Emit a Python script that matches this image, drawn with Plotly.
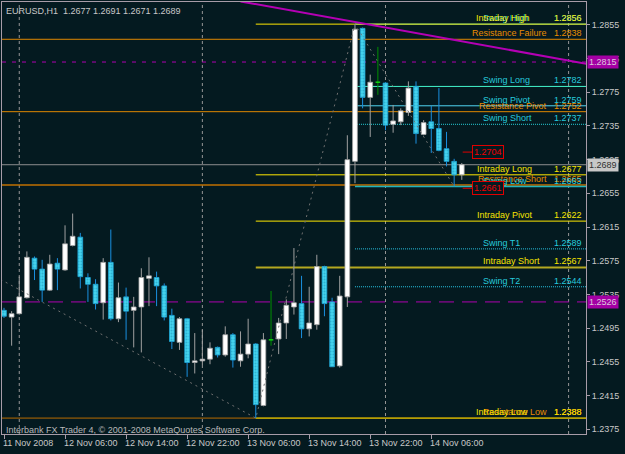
import plotly.graph_objects as go

# ---------------- data ----------------
symbol = "EURUSD,H1"
# hourly bars, bar 0 = 11 Nov 2008 22:00
opens = [1.2516, 1.2508, 1.2512, 1.2531, 1.2578, 1.2565, 1.2540, 1.2572, 1.2564, 1.2593,
         1.2603, 1.2555, 1.2547, 1.2525, 1.2573, 1.2506, 1.2532, 1.2516, 1.2520, 1.2554,
         1.2555, 1.2545, 1.2510, 1.2478, 1.2506, 1.2454, 1.2456, 1.2458, 1.2472, 1.2463,
         1.2487, 1.2456, 1.2464, 1.2476, 1.2403, 1.2481, 1.2482, 1.2501, 1.2520, 1.2524,
         1.2494, 1.2499, 1.2568, 1.2526, 1.2450, 1.2532, 1.2693, 1.2851, 1.2769, 1.2787,
         1.2786, 1.2737, 1.2740, 1.2751, 1.2782, 1.2725, 1.2740, 1.2732, 1.2708, 1.2693,
         1.2677]
highs = [1.2519, 1.2515, 1.2556, 1.2586, 1.2580, 1.2576, 1.2582, 1.2578, 1.2617, 1.2631,
         1.2608, 1.2560, 1.2553, 1.2578, 1.2612, 1.2549, 1.2543, 1.2532, 1.2566, 1.2579,
         1.2562, 1.2548, 1.2518, 1.2508, 1.2507, 1.2489, 1.2493, 1.2478, 1.2473, 1.2497,
         1.2489, 1.2491, 1.2506, 1.2477, 1.2489, 1.2539, 1.2507, 1.2529, 1.2590, 1.2557,
         1.2544, 1.2582, 1.2569, 1.2531, 1.2557, 1.2724, 1.2856, 1.2852, 1.2796, 1.2829,
         1.2787, 1.2760, 1.2756, 1.2788, 1.2788, 1.2742, 1.2759, 1.2780, 1.2728, 1.2696,
         1.2691]
lows = [1.2507, 1.2474, 1.2511, 1.2530, 1.2552, 1.2526, 1.2539, 1.2540, 1.2563, 1.2592,
        1.2542, 1.2526, 1.2517, 1.2505, 1.2504, 1.2502, 1.2481, 1.2472, 1.2466, 1.2521,
        1.2521, 1.2504, 1.2470, 1.2469, 1.2437, 1.2441, 1.2451, 1.2452, 1.2460, 1.2461,
        1.2448, 1.2449, 1.2459, 1.2388, 1.2402, 1.2474, 1.2464, 1.2482, 1.2511, 1.2483,
        1.2485, 1.2493, 1.2509, 1.2449, 1.2448, 1.2520, 1.2667, 1.2756, 1.2722, 1.2772,
        1.2730, 1.2727, 1.2736, 1.2747, 1.2714, 1.2724, 1.2703, 1.2705, 1.2687, 1.2663,
        1.2671]
closes = [1.2509, 1.2512, 1.2532, 1.2579, 1.2565, 1.2540, 1.2571, 1.2565, 1.2595, 1.2604,
          1.2556, 1.2547, 1.2524, 1.2573, 1.2506, 1.2531, 1.2515, 1.2520, 1.2555, 1.2557,
          1.2545, 1.2508, 1.2479, 1.2506, 1.2454, 1.2456, 1.2458, 1.2471, 1.2463, 1.2487,
          1.2457, 1.2464, 1.2476, 1.2404, 1.2481, 1.2481, 1.2501, 1.2522, 1.2525, 1.2494,
          1.2501, 1.2568, 1.2524, 1.2449, 1.2533, 1.2695, 1.2850, 1.2769, 1.2787, 1.2787,
          1.2736, 1.2741, 1.2753, 1.2780, 1.2726, 1.2739, 1.2732, 1.2706, 1.2693, 1.2677,
          1.2689]

tick_bars = [0, 8, 16, 24, 32, 40, 48, 56]
tick_labels = ["11 Nov 2008", "12 Nov 06:00", "12 Nov 14:00", "12 Nov 22:00",
               "13 Nov 06:00", "13 Nov 14:00", "13 Nov 22:00", "14 Nov 06:00"]
separator_bars = [2, 26, 50, 74]
price_ticks = [1.2375, 1.2415, 1.2455, 1.2495, 1.2535, 1.2575, 1.2615,
               1.2655, 1.2695, 1.2735, 1.2775, 1.2815, 1.2855]

level_names = ["Swing High", "Intraday High", "Resistance Failure", "Swing Long", "Swing Pivot",
               "Resistance Pivot", "Swing Short", "Intraday Long", "Resistance Short", "Swing Low",
               "Intraday Pivot", "Swing T1", "Intraday Short", "Swing T2", "Resistance Low",
               "Intraday Low"]
level_prices = [1.2856, 1.2856, 1.2838, 1.2782, 1.2759, 1.2752, 1.2737, 1.2677, 1.2665, 1.2663,
                1.2622, 1.2589, 1.2567, 1.2544, 1.2388, 1.2388]
intraday_start_bar = 33
swing_start_bar = 46

zigzag_bars = [-6, 33, 46, 59]
zigzag_prices = [1.2580, 1.2388, 1.2856, 1.2663]
trend_bars = [31, 76.3]
trend_prices = [1.2883, 1.2809]
dashed_levels = [1.2811, 1.2526]
dashed_labels = ["1.2815", "1.2526"]
marker_prices = [1.2704, 1.2661]
copyright_text = "Interbank FX Trader 4, \u00a9 2001-2008 MetaQuotes Software Corp."

# ---------------- style ----------------
BG = "#041a20"
FRAME = "#a89ca8"
TXT = "#c8c8c8"
FONT = "Liberation Sans"
FS = 9
X_RANGE = [-0.262, 76.28]
Y_RANGE = [1.23691, 1.28823]
PLOT_L, PLOT_W = 2, 584

YEL, YEL_T = "#ffe800", "#f6e400"
CYN_T = "#26cadc"
ORG, ORG_T = "#e08800", "#e88c00"

# name: (line color, text color, dash, width, (anchor, px))
STYLE = {
    "Swing High": ("#26cadc", CYN_T, "solid", 1, ("left", 482)),
    "Intraday High": (YEL, YEL_T, "solid", 1, ("left", 475)),
    "Resistance Failure": (ORG, ORG_T, "solid", 1, ("right", 548)),
    "Swing Long": ("#44f4cc", CYN_T, "solid", 1, ("left", 482)),
    "Swing Pivot": ("#50d4f0", CYN_T, "solid", 1, ("left", 482)),
    "Resistance Pivot": (ORG, ORG_T, "solid", 1, ("right", 548)),
    "Swing Short": ("#28d0d8", CYN_T, "1px,1px", 1, ("left", 482)),
    "Intraday Long": (YEL, YEL_T, "solid", 1, ("left", 475.5)),
    "Resistance Short": ("#c07000", ORG_T, "solid", 1.5, ("right", 548)),
    "Swing Low": ("#22b4bc", CYN_T, "solid", 1.5, ("left", 482)),
    "Intraday Pivot": (YEL, YEL_T, "solid", 1, ("left", 475.5)),
    "Swing T1": ("#28c4e4", CYN_T, "1px,1px", 1, ("left", 481.5)),
    "Intraday Short": ("#b4a820", YEL_T, "solid", 2, ("left", 481.5)),
    "Swing T2": ("#28c4e4", CYN_T, "1px,1px", 1, ("left", 481.5)),
    "Resistance Low": ("#b86c00", ORG_T, "solid", 1, ("right", 548)),
    "Intraday Low": ("#e8dc00", YEL_T, "solid", 1, ("left", 475)),
}


def px2paper(px):
    return (px - PLOT_L) / PLOT_W


fig = go.Figure()
shapes = []
annotations = []

# period separators
for b in separator_bars:
    shapes.append(dict(type="line", xref="x", yref="paper", x0=b, x1=b, y0=0, y1=1,
                       line=dict(color="#969696", width=1, dash="3px,3px"), layer="below"))

# level lines
for name, p in zip(level_names, level_prices):
    lc, tc, dash, w, _ = STYLE[name]
    if name.startswith("Intraday"):
        x0 = intraday_start_bar
    elif name.startswith("Swing"):
        x0 = swing_start_bar
    else:
        x0 = X_RANGE[0]
    shapes.append(dict(type="line", xref="x", yref="y", x0=x0, x1=X_RANGE[1], y0=p, y1=p,
                       line=dict(color=lc, width=w, dash=dash), layer="below"))

# magenta dashed horizontals
shapes.append(dict(type="line", xref="x", yref="y", x0=X_RANGE[0], x1=X_RANGE[1],
                   y0=dashed_levels[0], y1=dashed_levels[0],
                   line=dict(color="#b000b0", width=1, dash="4px,6px"), layer="below"))
shapes.append(dict(type="line", xref="x", yref="y", x0=X_RANGE[0], x1=X_RANGE[1],
                   y0=dashed_levels[1], y1=dashed_levels[1],
                   line=dict(color="#b000b0", width=1, dash="15px,8px"), layer="below"))

# bid line
bid = closes[-1]
shapes.append(dict(type="line", xref="x", yref="y", x0=X_RANGE[0], x1=X_RANGE[1], y0=bid, y1=bid,
                   line=dict(color="#8e8e8e", width=1), layer="below"))

# zigzag
fig.add_trace(go.Scatter(x=zigzag_bars, y=zigzag_prices, mode="lines",
                         line=dict(color="#707070", width=1, dash="2px,4px"), hoverinfo="skip"))
# trend line
fig.add_trace(go.Scatter(x=trend_bars, y=trend_prices, mode="lines",
                         line=dict(color="#b400b4", width=2), hoverinfo="skip"))

# candles
bx, bb, bh = [], [], []
rx, rb, rh = [], [], []
wick_bull_x, wick_bull_y = [], []
wick_bear_x, wick_bear_y = [], []
doji_x, doji_y, doji_tx, doji_ty = [], [], [], []
for i, (o, h, l, c) in enumerate(zip(opens, highs, lows, closes)):
    top, bot = max(o, c), min(o, c)
    if c > o:
        bx.append(i); bb.append(o); bh.append(c - o)
        wick_bull_x += [i, i, None, i, i, None]
        wick_bull_y += [h, top, None, bot, l, None]
    elif c < o:
        rx.append(i); rb.append(c); rh.append(o - c)
        wick_bear_x += [i, i, None, i, i, None]
        wick_bear_y += [h, top, None, bot, l, None]
    else:
        doji_x += [i, i, None]
        doji_y += [h, l, None]
        doji_tx += [i - 0.3, i + 0.3, None]
        doji_ty += [o, o, None]

fig.add_trace(go.Scatter(x=wick_bull_x, y=wick_bull_y, mode="lines",
                         line=dict(color="#a0a0a0", width=1), hoverinfo="skip"))
fig.add_trace(go.Scatter(x=wick_bear_x, y=wick_bear_y, mode="lines",
                         line=dict(color="#1a90e0", width=1), hoverinfo="skip"))
fig.add_trace(go.Scatter(x=doji_x, y=doji_y, mode="lines",
                         line=dict(color="#009000", width=1), hoverinfo="skip"))
fig.add_trace(go.Scatter(x=doji_tx, y=doji_ty, mode="lines",
                         line=dict(color="#10d010", width=1.5), hoverinfo="skip"))
fig.add_trace(go.Bar(x=bx, y=bh, base=bb, width=0.62,
                     marker=dict(color="#ffffff", line=dict(color="#a8a8a8", width=0.8)),
                     hoverinfo="skip"))
fig.add_trace(go.Bar(x=rx, y=rh, base=rb, width=0.62,
                     marker=dict(color="#38cce6",
                                 pattern=dict(shape=".", fgcolor="#1a8eb4", bgcolor="#44d4ee",
                                              size=3, solidity=0.35),
                                 line=dict(color="#20a8d8", width=0.8)),
                     hoverinfo="skip"))

# level labels
for name, p in zip(level_names, level_prices):
    lc, tc, dash, w, (anc, px) = STYLE[name]
    annotations.append(dict(x=px2paper(px), xref="paper", y=p, yref="y", xanchor=anc,
                            yanchor="bottom", text=name, showarrow=False, borderpad=0,
                            font=dict(family=FONT, size=FS, color=tc)))
    annotations.append(dict(x=px2paper(583), xref="paper", y=p, yref="y", xanchor="right",
                            yanchor="bottom", text=f"{p:.4f}", showarrow=False, borderpad=0,
                            font=dict(family=FONT, size=FS, color=tc)))

# red price markers near last bar
last = len(closes) - 1
for p in marker_prices:
    shapes.append(dict(type="line", xref="x", yref="y", x0=last + 0.12, x1=last + 1.37,
                       y0=p, y1=p, line=dict(color="#e00000", width=1)))
    annotations.append(dict(x=last + 1.37, xref="x", y=p, yref="y", xanchor="left",
                            yanchor="middle", text=f"{p:.4f}", showarrow=False,
                            bordercolor="#e00000", borderwidth=1, borderpad=1, bgcolor=BG,
                            font=dict(family=FONT, size=FS, color="#f00000")))

# right-axis price boxes
for p, t in zip(dashed_levels, dashed_labels):
    annotations.append(dict(x=1, xref="paper", y=p, yref="y", xanchor="left", yanchor="middle",
                            xshift=1, text=t, showarrow=False, bgcolor="#a400a4", borderpad=1,
                            font=dict(family=FONT, size=FS, color="#dcc8dc")))
annotations.append(dict(x=1, xref="paper", y=bid, yref="y", xanchor="left", yanchor="middle",
                        xshift=1, text=f"{bid:.4f}", showarrow=False, bgcolor="#c8c8c8",
                        borderpad=1, font=dict(family=FONT, size=FS, color="#303030")))

# x tick labels (left aligned at tick)
for b, t in zip(tick_bars, tick_labels):
    annotations.append(dict(x=b, xref="x", y=0, yref="paper", xanchor="left", yanchor="top",
                            xshift=-2, yshift=-3, text=t, showarrow=False, borderpad=0,
                            font=dict(family=FONT, size=FS, color=TXT)))

# header and copyright
annotations.append(dict(x=0, xref="paper", y=1, yref="paper", xanchor="left", yanchor="top",
                        xshift=3, yshift=-3, showarrow=False, borderpad=0,
                        text=f"{symbol}  {opens[-1]:.4f} {highs[-1]:.4f} {lows[-1]:.4f} {closes[-1]:.4f}",
                        font=dict(family=FONT, size=FS, color=TXT)))
annotations.append(dict(x=0, xref="paper", y=0, yref="paper", xanchor="left", yanchor="middle",
                        xshift=3, yshift=4, showarrow=False, borderpad=0, text=copyright_text,
                        font=dict(family=FONT, size=FS, color="#b8b8b8")))

fig.update_layout(
    width=625, height=454, margin=dict(l=2, r=39, t=2, b=20),
    paper_bgcolor=BG, plot_bgcolor=BG, showlegend=False, barmode="overlay",
    hovermode=False, shapes=shapes, annotations=annotations,
    xaxis=dict(range=X_RANGE, showgrid=False, zeroline=False, showline=True, mirror=True,
               linecolor=FRAME, linewidth=1, ticks="outside", tickvals=tick_bars, ticklen=4,
               tickcolor=FRAME, showticklabels=False),
    yaxis=dict(side="right", range=Y_RANGE, showgrid=False, zeroline=False, showline=True,
               mirror=True, linecolor=FRAME, linewidth=1, ticks="outside", ticklen=3,
               tickcolor=FRAME, tickvals=price_ticks,
               ticktext=[f"{v:.4f}" for v in price_ticks],
               tickfont=dict(family=FONT, size=FS, color=TXT)),
)

fig.write_html("out.html")
